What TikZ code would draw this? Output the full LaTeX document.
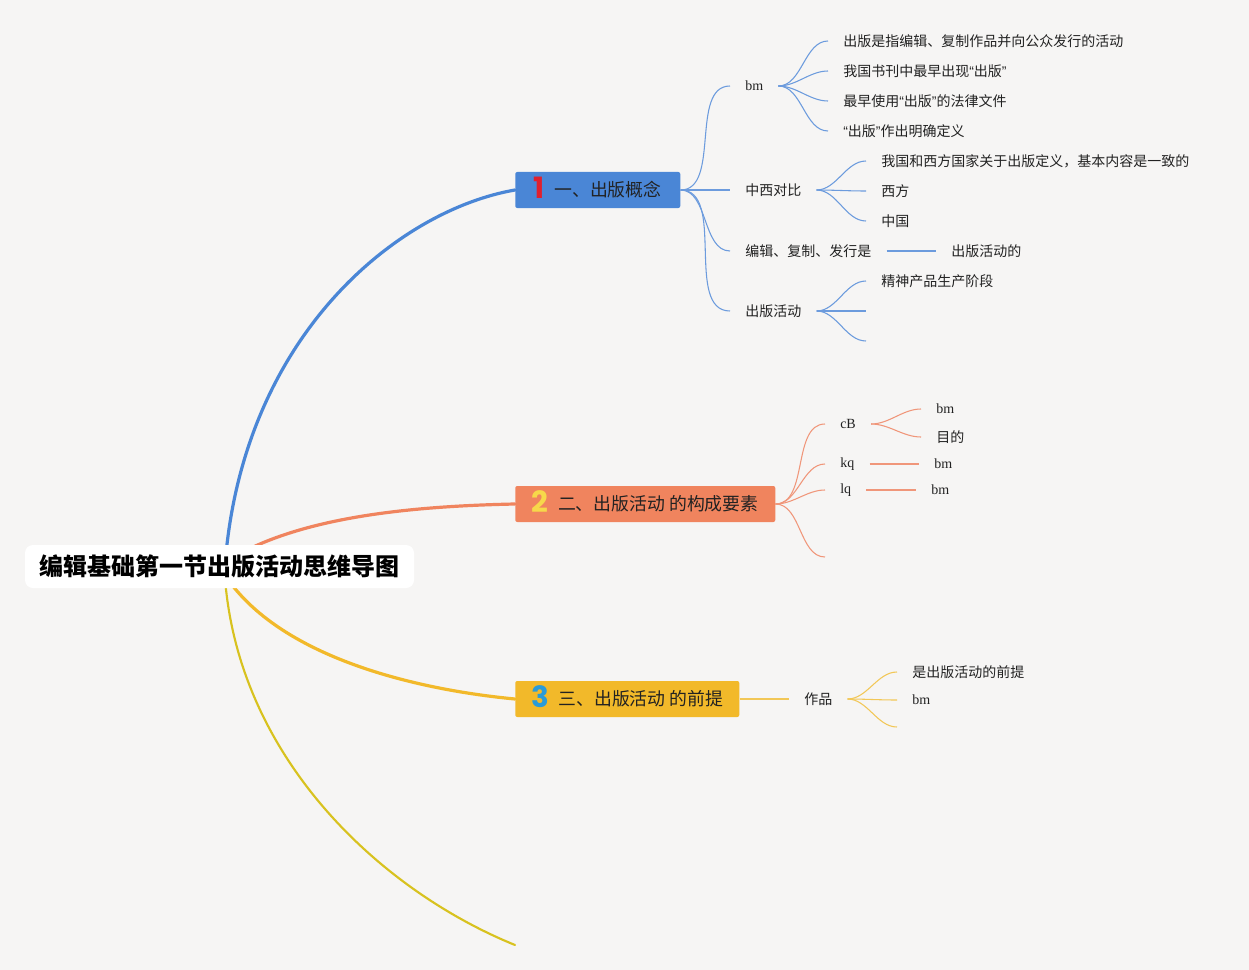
\documentclass[tikz,border=0pt]{standalone}
\usepackage{fontspec}
\setmainfont{Noto Sans CJK SC}
\newfontfamily\serfont{Liberation Serif}
\newfontfamily\quotefont{Liberation Sans}
\newfontfamily\numfont{Poppins}
\usetikzlibrary{calc,backgrounds}
\definecolor{bg}{HTML}{F6F5F4}
\definecolor{cblue}{HTML}{4A86D6}
\definecolor{corange}{HTML}{F0845E}
\definecolor{cyellow}{HTML}{F2B92A}
\definecolor{colive}{HTML}{D8C21F}
\definecolor{lblue}{HTML}{6C9BDD}
\definecolor{lorange}{HTML}{F0967A}
\definecolor{lyellow}{HTML}{F2C757}
\definecolor{nred}{HTML}{E0202E}
\definecolor{nyellow}{HTML}{F7D84A}
\definecolor{nblue}{HTML}{2A9BD8}
\definecolor{txt}{HTML}{222222}
\tikzset{
  lbl/.style={anchor=west, inner xsep=11.25pt, inner ysep=2pt, text=txt,
    font=\fontsize{10.5}{12}\selectfont},
  serlbl/.style={lbl, font=\serfont\fontsize{10.5}{12}\selectfont},
  branchbox/.style={anchor=west, minimum height=27pt, inner xsep=0pt, inner ysep=0pt,
    rounded corners=1.5pt, text=txt, font=\fontsize{13.4}{15}\selectfont},
  rootline/.style={line width=2.4pt, line cap=round},
  kidline/.style={line width=0.8pt},
  kid/.style={out=0, in=180, looseness=0.9},
}
\newcommand{\bnum}[2]{\raisebox{-1.5pt}{\smash{\textcolor{#1}{\numfont\bfseries\fontsize{22}{22}\selectfont #2}}}\hspace{7pt}}
\newcommand{\qo}{{\quotefont “}}
\newcommand{\qc}{{\quotefont ”}}
\begin{document}
\begin{tikzpicture}[x=0.75pt,y=-0.75pt]
\useasboundingbox (0,0) rectangle (1249,970);

% root
\node[fill=white, rounded corners=6pt, minimum width=291.75pt, minimum height=32.25pt,
  inner sep=0pt, font=\bfseries\fontsize{18}{20}\selectfont, text=black]
  (root) at (219.5,566.5) {编辑基础第一节出版活动思维导图};

% branch boxes
\node[branchbox, fill=cblue, minimum width=123.75pt] (b1) at (515,190)
  {\bnum{nred}{1}一、出版概念};
\node[branchbox, fill=corange, minimum width=195pt] (b2) at (515,504)
  {\bnum{nyellow}{2}二、出版活动 的构成要素};
\node[branchbox, fill=cyellow, minimum width=168pt] (b3) at (515,699)
  {\bnum{nblue}{3}三、出版活动 的前提};
\coordinate (oend) at (515,945);

% branch 1 children
\node[serlbl] (bm1) at (730,86) {bm};
\node[lbl] (zx) at (730,190) {中西对比};
\node[lbl] (bj) at (730,251) {编辑、复制、发行是};
\node[lbl] (cbhd) at (730,311) {出版活动};

\node[lbl] (d1) at (828,41) {出版是指编辑、复制作品并向公众发行的活动};
\node[lbl] (d2) at (828,71) {我国书刊中最早出现\qo 出版\qc};
\node[lbl] (d3) at (828,101) {最早使用\qo 出版\qc 的法律文件};
\node[lbl] (d4) at (828,131) {\qo 出版\qc 作出明确定义};

\node[lbl] (z1) at (866,161) {我国和西方国家关于出版定义，基本内容是一致的};
\node[lbl] (z2) at (866,191) {西方};
\node[lbl] (z3) at (866,221) {中国};

\node[lbl] (bj1) at (936,251) {出版活动的};

\node[lbl] (c1) at (866,281) {精神产品生产阶段};
\coordinate (c2) at (866,311);
\coordinate (c3) at (866,341);

% branch 2 children
\node[serlbl] (cB) at (825,424) {cB};
\node[serlbl] (kq) at (825,464) {kq};
\node[serlbl] (lq) at (825,490) {lq};
\coordinate (e4) at (825,557);
\node[serlbl] (cb1) at (921,409) {bm};
\node[lbl] (cb2) at (921,437) {目的};
\node[serlbl] (kq1) at (919,464) {bm};
\node[serlbl] (lq1) at (916,490) {bm};

% branch 3 children
\node[lbl] (zp) at (789,699) {作品};
\node[lbl] (zp1) at (897,672) {是出版活动的前提};
\node[serlbl] (zp2) at (897,700) {bm};
\coordinate (zp3) at (897,727);

\begin{scope}[on background layer]
\fill[bg] (0,0) rectangle (1249,970);
% root curves
\draw[rootline, colive, line width=1.6pt] ($(root.south)+(6,-4)$) .. controls (242,760) and (380,890) .. (oend);
\draw[rootline, cblue] ($(root.north)+(7,4)$) .. controls (250,330) and (400,210) .. (b1.west);
\draw[rootline, corange] ($(root.north)+(30,4)$) .. controls (320,515) and (420,506) .. (b2.west);
\draw[rootline, cyellow] ($(root.south)+(12,-4)$) .. controls (290,660) and (420,690) .. (b3.west);
% branch 1
\draw[kidline, lblue] (b1.east) to[kid] (bm1.west);
\draw[kidline, lblue] (b1.east) to[kid] (zx.west);
\draw[kidline, lblue] (b1.east) to[kid] (bj.west);
\draw[kidline, lblue] (b1.east) to[kid] (cbhd.west);
\foreach \t in {d1,d2,d3,d4} \draw[kidline, lblue] (bm1.east) to[kid] (\t.west);
\foreach \t in {z1,z2,z3} \draw[kidline, lblue] (zx.east) to[kid] (\t.west);
\draw[kidline, lblue] (bj.east) -- (bj1.west);
\draw[kidline, lblue] (cbhd.east) to[kid] (c1.west);
\draw[kidline, lblue] (cbhd.east) to[kid] (c2);
\draw[kidline, lblue] (cbhd.east) to[kid] (c3);
% branch 2
\foreach \t in {cB,kq,lq} \draw[kidline, lorange] (b2.east) to[kid] (\t.west);
\draw[kidline, lorange] (b2.east) to[kid] (e4);
\draw[kidline, lorange] (cB.east) to[kid] (cb1.west);
\draw[kidline, lorange] (cB.east) to[kid] (cb2.west);
\draw[kidline, lorange] (kq.east) -- (kq1.west);
\draw[kidline, lorange] (lq.east) -- (lq1.west);
% branch 3
\draw[kidline, lyellow] (b3.east) -- (zp.west);
\draw[kidline, lyellow] (zp.east) to[kid] (zp1.west);
\draw[kidline, lyellow] (zp.east) to[kid] (zp2.west);
\draw[kidline, lyellow] (zp.east) to[kid] (zp3);
\end{scope}
\end{tikzpicture}
\end{document}
